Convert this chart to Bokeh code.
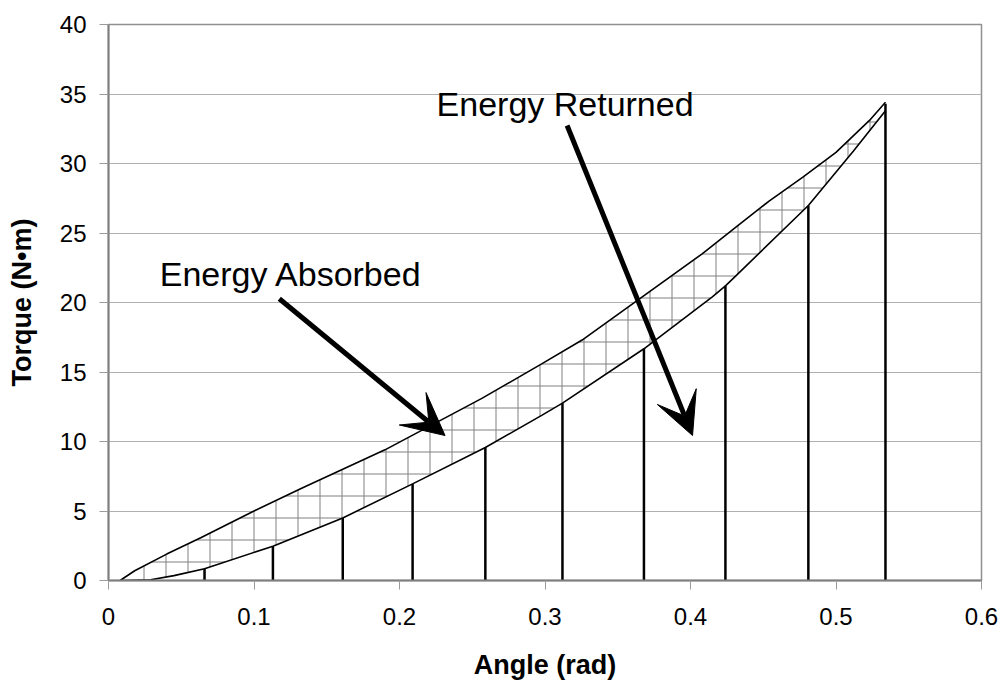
from bokeh.plotting import figure
from bokeh.models import Arrow, VeeHead, FixedTicker, CustomJSTickFormatter, Range1d, ColumnDataSource
from bokeh.embed import file_html
from bokeh.resources import INLINE
from bokeh.core.properties import value

# Loading curve (upper) and unloading curve (lower), angle in rad, torque in N·m
load_angle = [0.008, 0.018, 0.040, 0.0634, 0.100, 0.132, 0.190, 0.2566, 0.298, 0.3255,
              0.408, 0.431, 0.454, 0.477, 0.500, 0.523, 0.534]
load_torque = [0.0, 0.7, 1.9, 3.07, 5.0, 6.6, 9.4, 13.1, 15.6, 17.3,
               23.5, 25.4, 27.3, 29.0, 30.8, 33.1, 34.4]

unload_angle = [0.008, 0.029, 0.045, 0.066, 0.113, 0.161, 0.209, 0.259, 0.298, 0.312,
                0.368, 0.415, 0.424, 0.431, 0.481, 0.512, 0.534]
unload_torque = [0.0, 0.05, 0.35, 0.85, 2.47, 4.5, 6.95, 9.57, 11.9, 12.76,
                 16.67, 20.4, 21.2, 21.9, 26.98, 30.9, 33.8]

# Ordinates under the unloading curve
ord_angle = [0.066, 0.113, 0.161, 0.209, 0.259, 0.312, 0.368, 0.424, 0.481, 0.534]
ord_torque = [0.85, 2.47, 4.5, 6.95, 9.57, 12.76, 16.67, 21.2, 26.98, 34.3]

x_ticks = [0, 0.1, 0.2, 0.3, 0.4, 0.5, 0.6]
y_ticks = [0, 5, 10, 15, 20, 25, 30, 35, 40]

FONT = "Liberation Sans"

p = figure(width=1003, height=688, output_backend="svg", toolbar_location=None,
           x_range=Range1d(0, 0.6), y_range=Range1d(0, 40),
           min_border_left=108, min_border_right=22, min_border_top=24, min_border_bottom=108)
p.background_fill_color = "white"
p.border_fill_color = "white"
p.outline_line_color = "#909090"
p.outline_line_width = 1.5

# Hatched band between loading and unloading curves
band_x = load_angle + unload_angle[::-1]
band_y = load_torque + unload_torque[::-1]
p.patch(band_x, band_y, fill_color="white", line_color=None,
        hatch_pattern="+", hatch_color="#808080", hatch_scale=22, hatch_weight=1)

p.line(load_angle, load_torque, line_color="black", line_width=1.6)
p.line(unload_angle, unload_torque, line_color="black", line_width=1.6)

ords = ColumnDataSource(dict(x=ord_angle, y0=[0] * len(ord_angle), y1=ord_torque))
p.segment(x0="x", y0="y0", x1="x", y1="y1", source=ords, line_color="black", line_width=2.5)

# Axes
p.xaxis.ticker = FixedTicker(ticks=x_ticks)
p.yaxis.ticker = FixedTicker(ticks=y_ticks)
p.xaxis.formatter = CustomJSTickFormatter(code="return tick === 0 ? '0' : tick.toFixed(1);")
p.xgrid.grid_line_color = None
p.ygrid.grid_line_color = "#b0b0b0"
p.ygrid.grid_line_width = 1

for ax in (p.xaxis[0], p.yaxis[0]):
    ax.axis_line_color = "#7f7f7f"
    ax.axis_line_width = 2
    ax.major_tick_line_color = "#9a9a9a"
    ax.major_tick_line_width = 1
    ax.major_tick_out = 9
    ax.major_tick_in = 0
    ax.minor_tick_line_color = None
    ax.major_label_text_font = FONT
    ax.major_label_text_font_size = "24px"
    ax.major_label_text_color = "black"
    ax.axis_label_text_font = FONT
    ax.axis_label_text_font_size = "27px"
    ax.axis_label_text_font_style = "bold"
    ax.axis_label_text_color = "black"

p.xaxis.axis_label = "Angle (rad)"
p.yaxis.axis_label = "Torque (N•m)"
p.xaxis.major_label_standoff = 18
p.yaxis.major_label_standoff = 13
p.xaxis.axis_label_standoff = 22
p.yaxis.axis_label_standoff = 20

# Annotations
p.text(x=[0.1255], y=[22.05], text=["Energy Absorbed"], text_align="center",
       text_baseline="alphabetic", text_font=value(FONT), text_font_size="34px", text_color="black")
p.text(x=[0.3138], y=[34.3], text=["Energy Returned"], text_align="center",
       text_baseline="alphabetic", text_font=value(FONT), text_font_size="34px", text_color="black")

p.add_layout(Arrow(end=VeeHead(size=42, fill_color="black", line_color="black"),
                   x_start=0.1174, y_start=20.27, x_end=0.2313, y_end=10.43,
                   line_width=5, line_color="black"))
p.add_layout(Arrow(end=VeeHead(size=42, fill_color="black", line_color="black"),
                   x_start=0.3152, y_start=32.73, x_end=0.4014, y_end=10.43,
                   line_width=5, line_color="black"))

open("out.html", "w").write(file_html(p, INLINE))
